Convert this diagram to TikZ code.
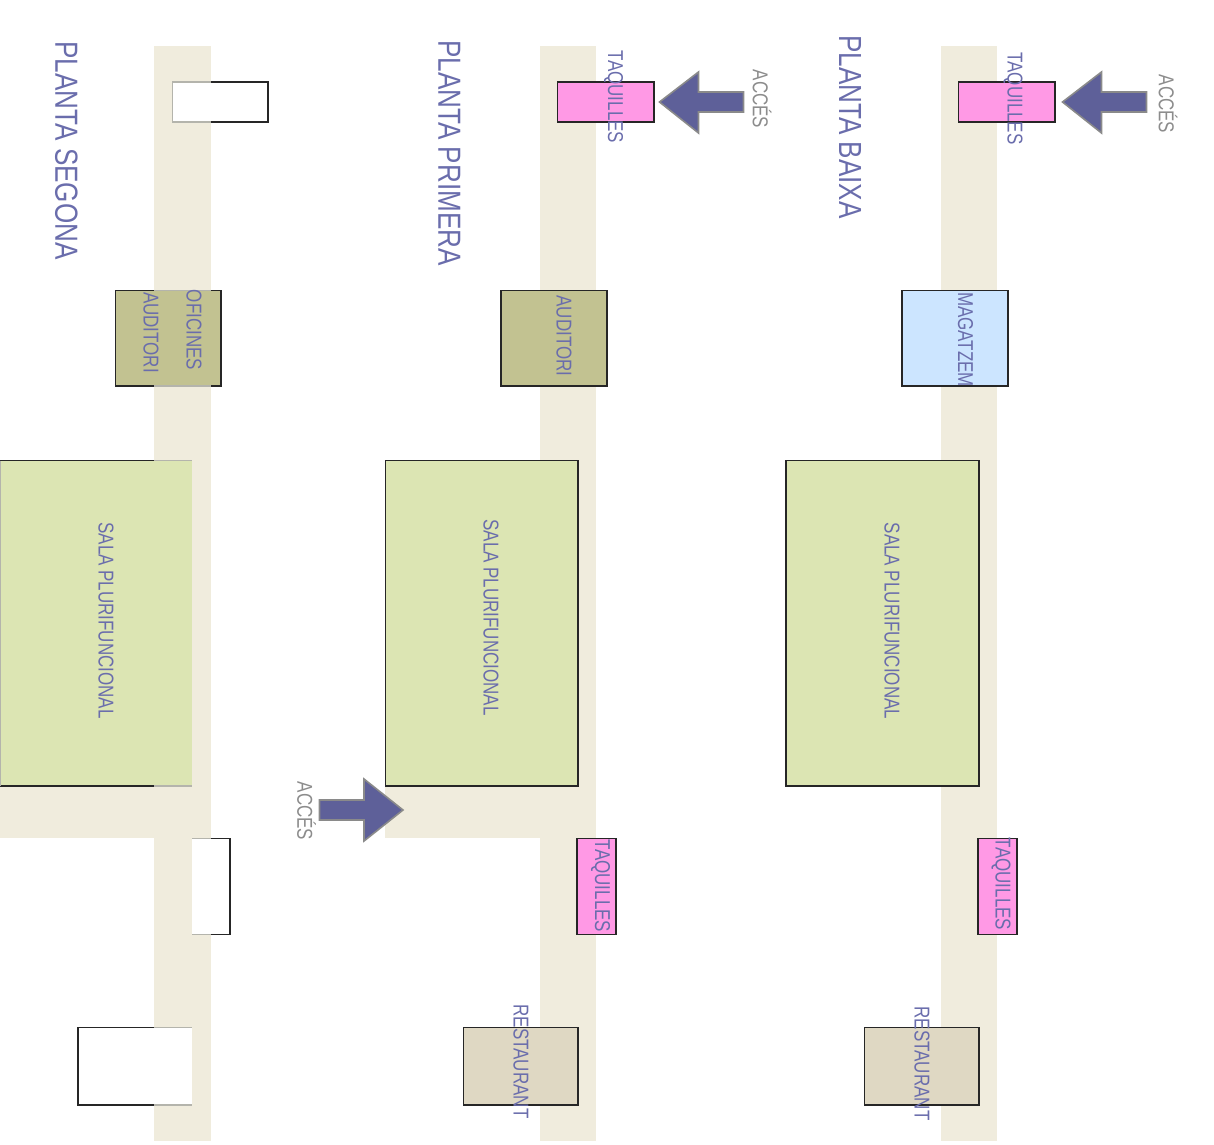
\documentclass[tikz,border=0pt]{standalone}
\usepackage{fontspec}
\usepackage{graphicx}
\setmainfont{Liberation Sans}
\definecolor{corr}{HTML}{F0ECDD}
\definecolor{sala}{HTML}{DCE5B3}
\definecolor{audi}{HTML}{C2C291}
\definecolor{pinkt}{HTML}{FF99E5}
\definecolor{rest}{HTML}{DFD8C3}
\definecolor{mag}{HTML}{CCE5FF}
\definecolor{ink}{HTML}{6A6DAC}
\definecolor{arrowf}{HTML}{5E6099}
\definecolor{arrowe}{HTML}{8A8A8A}
\definecolor{acces}{HTML}{8C8C8C}
\definecolor{seg}{HTML}{B4B4AC}
\newcommand{\squeezed}[2]{\scalebox{#1}[1]{#2}}
\tikzset{
  corridor/.style={fill=corr,draw=none},
  room/.style={draw=black!85,line width=1.25pt},
  faint/.style={draw=seg,line width=1.25pt},
  entry/.style={fill=arrowf,draw=arrowe,line width=1.6pt,line join=miter},
  lbl/.style={inner sep=0pt,rotate=-90,text=ink,font=\fontsize{21.5}{21.5}\selectfont},
  ttl/.style={inner sep=0pt,rotate=-90,text=ink,font=\fontsize{32}{32}\selectfont},
  acc/.style={inner sep=0pt,rotate=-90,text=acces,font=\fontsize{21.5}{21.5}\selectfont}
}
\newcommand{\accarrowleft}[1]{%
  \draw[entry] (#1+0,102) -- (#1+39,72) -- (#1+39,92) -- (#1+84,92) -- (#1+84,112) -- (#1+39,112) -- (#1+39,133) -- cycle;}
\begin{document}
\begin{tikzpicture}[x=1pt,y=-1pt]
\useasboundingbox (0,0) rectangle (1214,1144);
\clip (0,0) rectangle (1214,1144);
% corridors
\fill[corridor] (154,46) rectangle (211,1141);
\fill[corridor] (0,786) rectangle (211,838);
\fill[corridor] (540,46) rectangle (596,1141);
\fill[corridor] (385,786) rectangle (596,838);
\fill[corridor] (941,46) rectangle (997,1141);
% --- PLANTA SEGONA ---
\filldraw[room,fill=white] (172.5,82) rectangle (268,122);
\draw[faint] (211,82) -- (172.5,82) -- (172.5,122) -- (211,122);
\filldraw[room,fill=audi] (115.5,290.5) rectangle (221,386);
\draw[faint] (154,290.5) -- (211,290.5) (154,386) -- (211,386);
\fill[sala] (0,460.5) rectangle (192,786);
\draw[room] (0,460.5) -- (154,460.5) (0,786) -- (154,786);
\draw[faint] (0.4,460.5) -- (0.4,786) (154,460.5) -- (192,460.5) (154,786) -- (192,786);
\fill[white] (192,838.5) rectangle (230,934.5);
\draw[room] (211,838.5) -- (230,838.5) -- (230,934.5) -- (211,934.5);
\draw[faint] (192,838.5) -- (211,838.5) (192,934.5) -- (211,934.5);
\fill[white] (78,1027.5) rectangle (192,1105);
\draw[room] (154,1027.5) -- (78,1027.5) -- (78,1105) -- (154,1105);
\draw[faint] (154,1027.5) -- (192,1027.5) (154,1105) -- (192,1105);
\node[ttl] (t1) at (66.5,150.5) {\squeezed{0.815}{PLANTA SEGONA}};
\node[lbl] (a1) at (151,332.5) {\squeezed{0.79}{AUDITORI}};
\node[lbl] (o1) at (194,330) {\squeezed{0.79}{OFICINES}};
\node[lbl] (s1) at (106,620.5) {\squeezed{0.79}{SALA PLURIFUNCIONAL}};
% --- PLANTA PRIMERA ---
\filldraw[room,fill=pinkt] (557.5,82) rectangle (654,122);
\filldraw[room,fill=audi] (501,290.5) rectangle (607,386);
\filldraw[room,fill=sala] (385.5,460.5) rectangle (578,786);
\filldraw[room,fill=pinkt] (577,838.5) rectangle (616,934.5);
\filldraw[room,fill=rest] (463.5,1027.5) rectangle (578,1105);
\accarrowleft{659.5}
\draw[entry] (403,810) -- (364,779) -- (364,800) -- (319.5,800) -- (319.5,820) -- (364,820) -- (364,841) -- cycle;
\node[ttl] (t2) at (449.5,153) {\squeezed{0.815}{PLANTA PRIMERA}};
\node[lbl] (q2) at (613.5,97) {\squeezed{0.79}{TAQUILLES}};
\node[acc] (c2) at (762,99) {\squeezed{0.79}{ACCÉS}};
\node[lbl] (a2) at (564,336) {\squeezed{0.79}{AUDITORI}};
\node[lbl] (s2) at (491,617.5) {\squeezed{0.79}{SALA PLURIFUNCIONAL}};
\node[acc] (d2) at (306.5,811) {\squeezed{0.79}{ACCÉS}};
\node[lbl] (u2) at (600.5,886) {\squeezed{0.79}{TAQUILLES}};
\node[lbl] (r2) at (521,1061.5) {\squeezed{0.79}{RESTAURANT}};
% --- PLANTA BAIXA ---
\filldraw[room,fill=pinkt] (958.5,82) rectangle (1055,122);
\filldraw[room,fill=mag] (902,290.5) rectangle (1008,386);
\filldraw[room,fill=sala] (786,460.5) rectangle (979,786);
\filldraw[room,fill=pinkt] (978,838.5) rectangle (1017,934.5);
\filldraw[room,fill=rest] (864.5,1027.5) rectangle (979,1105);
\accarrowleft{1062.5}
\node[ttl] (t3) at (850,127) {\squeezed{0.815}{PLANTA BAIXA}};
\node[lbl] (q3) at (1013,98.5) {\squeezed{0.79}{TAQUILLES}};
\node[acc] (c3) at (1168,104) {\squeezed{0.79}{ACCÉS}};
\node[lbl] (m3) at (965.5,339.5) {\squeezed{0.79}{MAGATZEM}};
\node[lbl] (s3) at (892,621) {\squeezed{0.79}{SALA PLURIFUNCIONAL}};
\node[lbl] (u3) at (1001,884) {\squeezed{0.79}{TAQUILLES}};
\node[lbl] (r3) at (922,1063.5) {\squeezed{0.79}{RESTAURANT}};
\end{tikzpicture}
\end{document}
